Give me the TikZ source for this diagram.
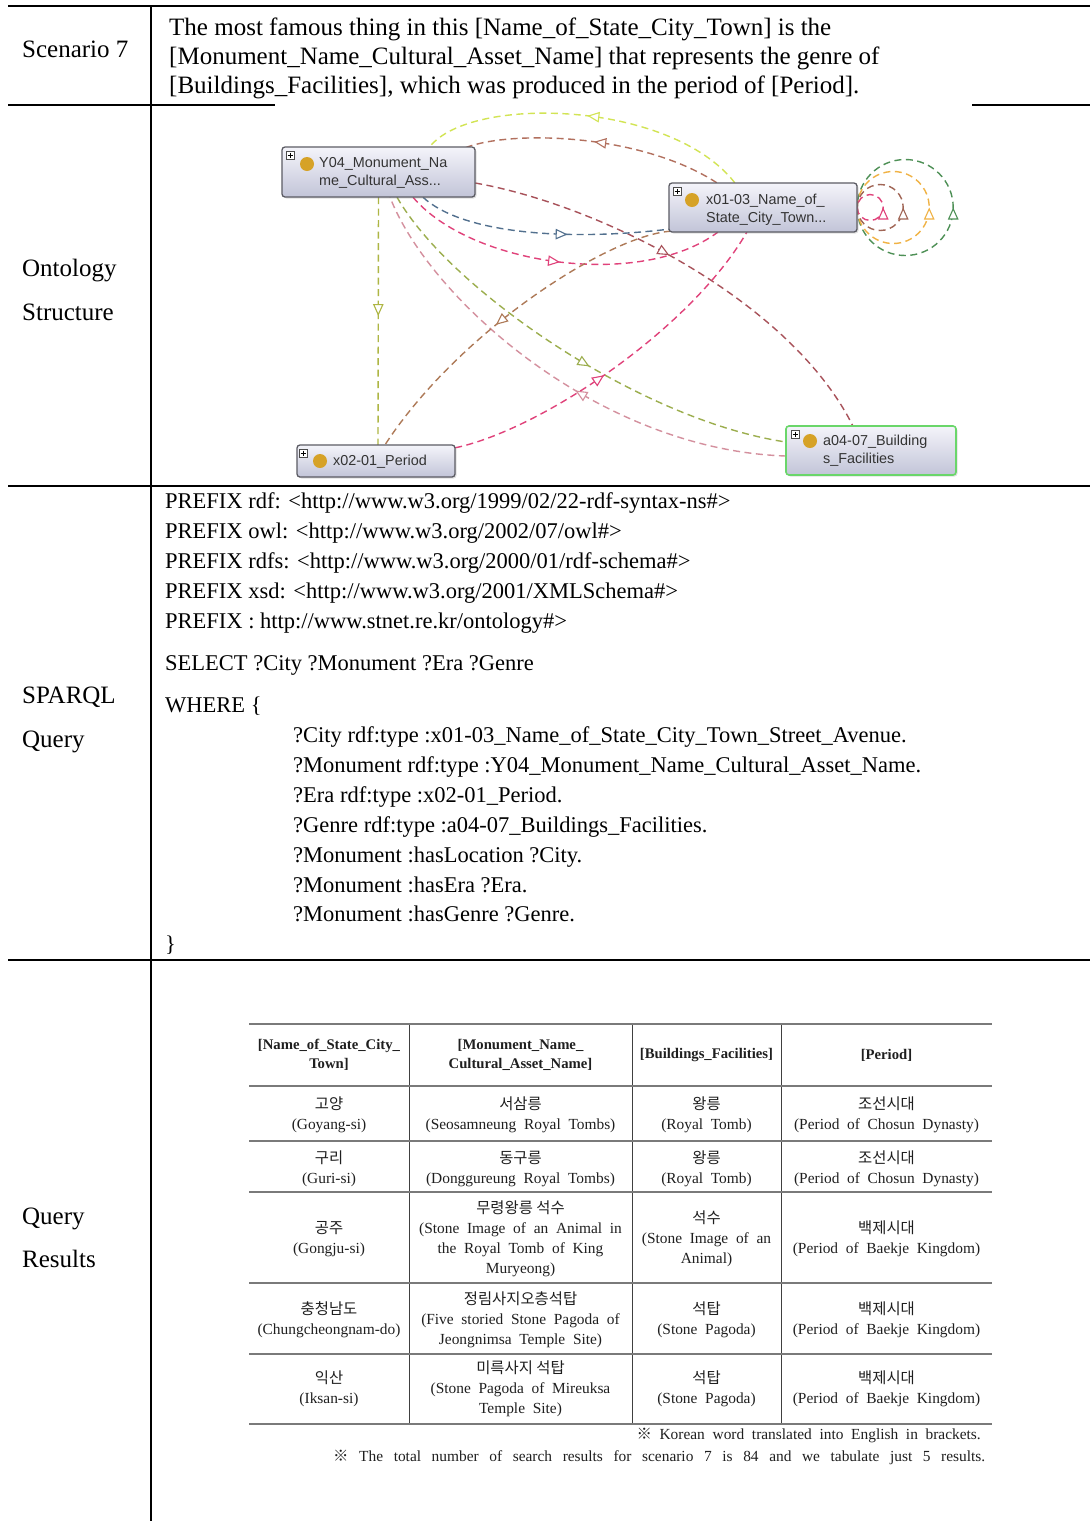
\documentclass[tikz,border=0pt]{standalone}
\usepackage{fontspec}
\setmainfont{Liberation Serif}
\newfontfamily\nodefont{Liberation Sans}
\newfontfamily\kr{Noto Sans CJK KR}
\newfontfamily\tabfont[WordSpace=2]{Liberation Serif}
\usetikzlibrary{arrows.meta,decorations.markings,shadows,calc}

\definecolor{ruleg}{HTML}{7A7A7A}
\definecolor{boxedge}{HTML}{5C5C64}
\definecolor{boxtop}{HTML}{F4F4FA}
\definecolor{boxbot}{HTML}{C2C4D8}
\definecolor{dotc}{HTML}{D6A227}
\definecolor{greenedge}{HTML}{6AD66A}
\definecolor{cyellow}{HTML}{D2E454}
\definecolor{cbrownA}{HTML}{B2705E}
\definecolor{cdarkred}{HTML}{A8525A}
\definecolor{cblue}{HTML}{52708E}
\definecolor{cpink}{HTML}{E0427A}
\definecolor{colive}{HTML}{AEB644}
\definecolor{coliveg}{HTML}{9CAE4E}
\definecolor{cpale}{HTML}{D4909E}
\definecolor{cbrownB}{HTML}{AE7A58}
\definecolor{corange}{HTML}{F0B244}
\definecolor{cgreen}{HTML}{4E9056}

\tikzset{
  frame/.style={line width=2pt, black},
  lbl/.style={anchor=base west, inner sep=0pt, font=\fontsize{25}{29}\selectfont},
  qline/.style={anchor=base west, inner sep=0pt, font=\fontsize{22.5}{30}\selectfont},
  classbox/.style={draw=boxedge, line width=1.3pt, rounded corners=3pt,
    top color=boxtop, bottom color=boxbot, inner sep=0pt,
    drop shadow={opacity=0.25, shadow xshift=1.5pt, shadow yshift=-1.5pt}},
  classtext/.style={anchor=west, inner sep=0pt, align=left, text=black!80,
    font=\nodefont\fontsize{14.4}{18}\selectfont},
  dot/.style={circle, fill=dotc, minimum size=14pt, inner sep=0pt},
  plusbox/.style={draw=black!70, fill=white, line width=0.6pt, minimum size=8pt, inner sep=0pt},
  link/.style={line width=1.4pt, dash pattern=on 7pt off 4.5pt},
  midarrow/.style={postaction={decorate}, decoration={markings,
    mark=at position #1 with {\arrow[solid, line width=1.1pt]{Triangle[length=12pt, width=10.5pt, fill=white]}}}},
  cell/.style={align=center, inner sep=0pt, text=black!88,
    font=\tabfont\fontsize{15.4}{20}\selectfont},
  hcell/.style={align=center, inner sep=0pt, text=black!88,
    font=\tabfont\bfseries\fontsize{14.7}{19.5}\selectfont},
  hrule/.style={ruleg, line width=2.6pt},
  vrule/.style={black!75, line width=1pt}
}

\newcommand{\plusmark}[2]{%
  \node[plusbox] (#1) at #2 {};
  \draw[line width=0.6pt] ($(#1.center)+(-2.5,0)$) -- ($(#1.center)+(2.5,0)$);
  \draw[line width=0.6pt] ($(#1.center)+(0,-2.5)$) -- ($(#1.center)+(0,2.5)$);}

\begin{document}
\begin{tikzpicture}[x=1pt, y=-1pt]
\useasboundingbox (0,0) rectangle (1090,1521);
\fill[white] (0,0) rectangle (1090,1521);

% ---------- outer grid ----------
\draw[frame] (8,6) -- (1090,6);
\draw[frame] (151,6) -- (151,1521);
\draw[frame, line width=2.4pt] (8,105) -- (275,105);
\draw[frame, line width=2.4pt] (972,105) -- (1090,105);
\draw[frame, line width=1.4pt] (8,486) -- (1090,486);
\draw[frame] (8,960) -- (1090,960);

% ---------- left column labels ----------
\node[lbl] (lscen) at (22,57) {Scenario 7};
\node[lbl] (lont1) at (22,276) {Ontology};
\node[lbl] (lont2) at (22,320) {Structure};
\node[lbl] (lsp1) at (22,703) {SPARQL};
\node[lbl] (lsp2) at (22,747) {Query};
\node[lbl] (lres1) at (22,1224) {Query};
\node[lbl] (lres2) at (22,1267) {Results};

% ---------- scenario sentence ----------
\node[lbl] (s1) at (169,35) {The most famous thing in this [Name\_of\_State\_City\_Town] is the};
\node[lbl] (s2) at (169,64) {[Monument\_Name\_Cultural\_Asset\_Name] that represents the genre of};
\node[lbl] (s3) at (169,93) {[Buildings\_Facilities], which was produced in the period of [Period].};

% ---------- ontology graph: edges ----------
\coordinate (y04pos) at (378.5,172);
\coordinate (x01pos) at (763,207.5);
\coordinate (perpos) at (376,461);
\coordinate (a04pos) at (871,450.5);

% invisible placeholders so the edges can refer to the class boxes
\node[minimum width=193pt, minimum height=50pt, inner sep=0pt] (y04) at (y04pos) {};
\node[minimum width=188pt, minimum height=49pt, inner sep=0pt] (x01) at (x01pos) {};
\node[minimum width=158pt, minimum height=32pt, inner sep=0pt] (per) at (perpos) {};
\node[minimum width=170pt, minimum height=49pt, inner sep=0pt] (a04) at (a04pos) {};

% self loops on the town class
\draw[link, cgreen, midarrow=0.5] (x01.east) arc[start angle=180, end angle=-180, radius=48];
\draw[link, corange, midarrow=0.5] (x01.east) arc[start angle=180, end angle=-180, radius=36];
\draw[link, cbrownA!90!black, midarrow=0.5] (x01.east) arc[start angle=180, end angle=-180, radius=23];
\draw[link, cpink, midarrow=0.5] (x01.east) arc[start angle=180, end angle=-180, radius=13];

% town -> monument (upper arcs)
\draw[link, cyellow, midarrow=0.5] ($(x01.north west)+(66,0)$) .. controls (670,100) and (470,95) .. ($(y04.north west)+(148,0)$);
\draw[link, cbrownA, midarrow=0.5] ($(x01.north west)+(48,0)$) .. controls (640,133) and (510,130) .. ($(y04.north east)+(-10,1)$);
% monument -> buildings (long arc)
\draw[link, cdarkred, midarrow=0.45] ($(y04.east)+(0,11)$) .. controls (600,205) and (790,300) .. ($(a04.north west)+(67,0)$);
% monument -> town
\draw[link, cblue, midarrow=0.6] ($(y04.south)+(44.5,0)$) .. controls (460,232) and (560,242) .. ($(x01.south west)+(0,-3)$);
\draw[link, cpink, midarrow=0.5] ($(y04.south)+(34.5,0)$) .. controls (470,265) and (640,290) .. ($(x01.south west)+(49,0)$);
% monument -> period
\draw[link, colive, midarrow=0.48] (y04.south) -- ($(per.north)+(2,0)$);
% monument <-> buildings
\draw[link, coliveg, midarrow=0.55] ($(y04.south)+(18.5,0)$) .. controls (450,290) and (640,420) .. ($(a04.west)+(0,-8.5)$);
\draw[link, cpale, midarrow=0.45] ($(a04.west)+(0,5.5)$) .. controls (600,450) and (430,300) .. ($(y04.south)+(11.5,0)$);
% period <-> town
\draw[link, cpink, midarrow=0.45] ($(per.north east)+(0,3)$) .. controls (540,430) and (690,330) .. ($(x01.south west)+(78,0)$);
\draw[link, cbrownB, midarrow=0.55] ($(x01.south west)+(2,-1)$) .. controls (610,235) and (460,330) .. ($(per.north)+(9,0)$);

% ---------- ontology graph: class boxes ----------
\node[classbox, minimum width=193pt, minimum height=50pt] (y04box) at (y04pos) {};
\node[classbox, minimum width=188pt, minimum height=49pt] (x01box) at (x01pos) {};
\node[classbox, minimum width=158pt, minimum height=32pt] (perbox) at (perpos) {};
\node[classbox, draw=greenedge, line width=1.6pt, minimum width=170pt, minimum height=49pt] (a04box) at (a04pos) {};

\plusmark{py04}{(290,155)}
\plusmark{px01}{(677,191)}
\plusmark{pper}{(303,453)}
\plusmark{pa04}{(795,434)}

\node[dot] (dy04) at (307,164) {};
\node[dot] (dx01) at (692,200) {};
\node[dot] (dper) at (320,461) {};
\node[dot] (da04) at (810,441) {};

\node[classtext] (ty04) at (319,173) {Y04\_Monument\_Na\\me\_Cultural\_Ass...};
\node[classtext] (tx01) at (706,210) {x01-03\_Name\_of\_\\State\_City\_Town...};
\node[classtext] (tper) at (333,462) {x02-01\_Period};
\node[classtext] (ta04) at (823,451) {a04-07\_Building\\s\_Facilities};

% ---------- SPARQL query ----------
\node[qline] (q1) at (165,508) {PREFIX rdf: <http://www.w3.org/1999/02/22-rdf-syntax-ns\#>};
\node[qline] (q2) at (165,538) {PREFIX owl: <http://www.w3.org/2002/07/owl\#>};
\node[qline] (q3) at (165,568) {PREFIX rdfs: <http://www.w3.org/2000/01/rdf-schema\#>};
\node[qline] (q4) at (165,598) {PREFIX xsd: <http://www.w3.org/2001/XMLSchema\#>};
\node[qline] (q5) at (165,628) {PREFIX : http://www.stnet.re.kr/ontology\#>};
\node[qline] (q6) at (165,670) {SELECT ?City ?Monument ?Era ?Genre};
\node[qline] (q7) at (165,712) {WHERE \{};
\node[qline] (q8) at (293,742) {?City rdf:type :x01-03\_Name\_of\_State\_City\_Town\_Street\_Avenue.};
\node[qline] (q9) at (293,772) {?Monument rdf:type :Y04\_Monument\_Name\_Cultural\_Asset\_Name.};
\node[qline] (q10) at (293,802) {?Era rdf:type :x02-01\_Period.};
\node[qline] (q11) at (293,832) {?Genre rdf:type :a04-07\_Buildings\_Facilities.};
\node[qline] (q12) at (293,862) {?Monument :hasLocation ?City.};
\node[qline] (q13) at (293,892) {?Monument :hasEra ?Era.};
\node[qline] (q14) at (293,921) {?Monument :hasGenre ?Genre.};
\node[qline] (q15) at (165,951) {\}};

% ---------- result table ----------
\draw[vrule] (409,1024) -- (409,1424);
\draw[vrule] (632,1024) -- (632,1424);
\draw[vrule] (781,1024) -- (781,1424);
\draw[hrule] (249,1024) -- (992,1024);
\draw[hrule] (249,1086) -- (992,1086);
\draw[hrule, line width=2pt] (249,1141) -- (992,1141);
\draw[hrule, line width=2pt] (249,1192) -- (992,1192);
\draw[hrule, line width=2pt] (249,1283) -- (992,1283);
\draw[hrule, line width=2pt] (249,1354) -- (992,1354);
\draw[hrule] (249,1424) -- (992,1424);

\node[hcell] (h1) at (329,1055) {[Name\_of\_State\_City\_\\Town]};
\node[hcell] (h2) at (520.5,1055) {[Monument\_Name\_\\Cultural\_Asset\_Name]};
\node[hcell] (h3) at (706.5,1055) {[Buildings\_Facilities]};
\node[hcell] (h4) at (886.5,1055) {[Period]};

\node[cell] (r1c1) at (329,1115) {{\kr 고양}\\(Goyang-si)};
\node[cell] (r1c2) at (520.5,1115) {{\kr 서삼릉}\\(Seosamneung Royal Tombs)};
\node[cell] (r1c3) at (706.5,1115) {{\kr 왕릉}\\(Royal Tomb)};
\node[cell] (r1c4) at (886.5,1115) {{\kr 조선시대}\\(Period of Chosun Dynasty)};

\node[cell] (r2c1) at (329,1169) {{\kr 구리}\\(Guri-si)};
\node[cell] (r2c2) at (520.5,1169) {{\kr 동구릉}\\(Donggureung Royal Tombs)};
\node[cell] (r2c3) at (706.5,1169) {{\kr 왕릉}\\(Royal Tomb)};
\node[cell] (r2c4) at (886.5,1169) {{\kr 조선시대}\\(Period of Chosun Dynasty)};

\node[cell] (r3c1) at (329,1239) {{\kr 공주}\\(Gongju-si)};
\node[cell] (r3c2) at (520.5,1238.5) {{\kr 무령왕릉 석수}\\(Stone Image of an Animal in\\the Royal Tomb of King\\Muryeong)};
\node[cell] (r3c3) at (706.5,1238.5) {{\kr 석수}\\(Stone Image of an\\Animal)};
\node[cell] (r3c4) at (886.5,1239) {{\kr 백제시대}\\(Period of Baekje Kingdom)};

\node[cell] (r4c1) at (329,1319.5) {{\kr 충청남도}\\(Chungcheongnam-do)};
\node[cell] (r4c2) at (520.5,1319.5) {{\kr 정림사지오층석탑}\\(Five storied Stone Pagoda of\\Jeongnimsa Temple Site)};
\node[cell] (r4c3) at (706.5,1319.5) {{\kr 석탑}\\(Stone Pagoda)};
\node[cell] (r4c4) at (886.5,1319.5) {{\kr 백제시대}\\(Period of Baekje Kingdom)};

\node[cell] (r5c1) at (329,1389) {{\kr 익산}\\(Iksan-si)};
\node[cell] (r5c2) at (520.5,1389) {{\kr 미륵사지 석탑}\\(Stone Pagoda of Mireuksa\\Temple Site)};
\node[cell] (r5c3) at (706.5,1389) {{\kr 석탑}\\(Stone Pagoda)};
\node[cell] (r5c4) at (886.5,1389) {{\kr 백제시대}\\(Period of Baekje Kingdom)};

\node[cell, anchor=base east] (fn1) at (981,1439) {{\kr ※}\ Korean word translated into English in brackets.};
\node[cell, anchor=base west] (fn2) at (333,1461) {\makebox[652pt][s]{{\kr ※}\ The total number of search results for scenario 7 is 84 and we tabulate just 5 results.}};
\end{tikzpicture}
\end{document}
